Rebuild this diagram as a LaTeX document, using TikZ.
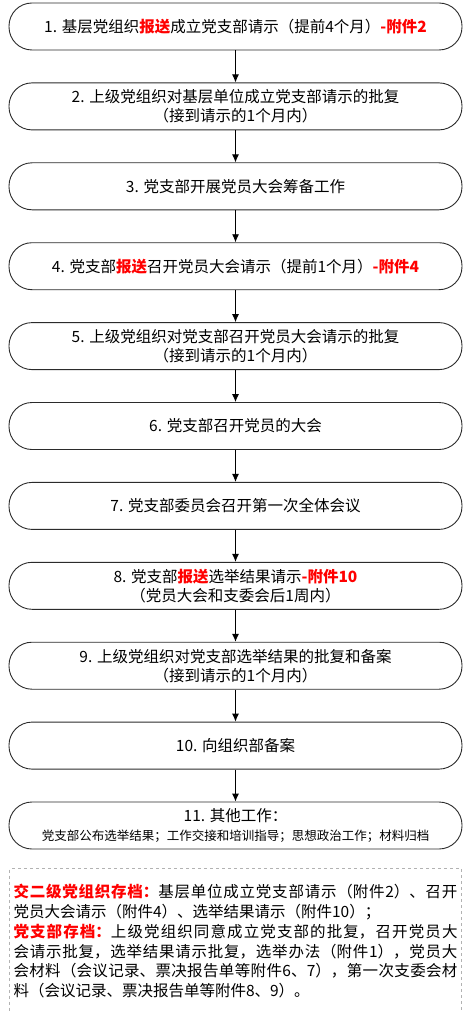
\documentclass[tikz,border=0pt]{standalone}
\usepackage{fontspec}
\setmainfont{Noto Sans CJK SC}
\XeTeXlinebreaklocale "zh"
\XeTeXlinebreakskip=0pt plus 2pt
\usepackage{xcolor}
\usepackage{tikz}
\usetikzlibrary{positioning,arrows.meta}
\definecolor{sendred}{HTML}{FF0000}
\definecolor{boxline}{HTML}{2B2B2B}
\newcommand{\hl}[1]{\textcolor{sendred}{\bfseries #1}}
\tikzstyle{stepbox}=[draw=boxline,line width=0.9pt,rounded corners=23pt,minimum width=453pt,minimum height=47pt,inner sep=2pt,align=center,font=\fontsize{15.5}{19}\selectfont]
\tikzstyle{flow}=[-{Latex[length=8pt,width=7pt]},line width=0.9pt]
\tikzstyle{notebox}=[draw=gray!60,dashed,minimum width=452pt,minimum height=145pt,text width=444pt,inner sep=4pt,align=justify,font=\fontsize{15.5}{19.8}\selectfont]

\begin{document}
\begin{tikzpicture}[node distance=32pt]
\useasboundingbox (0,0) rectangle (472pt,-1011pt);
\node[stepbox] (s1) at (235.5pt,-26.5pt) {1. 基层党组织\hl{报送}成立党支部请示（提前4个月）\hl{-附件2}};
\node[stepbox,below=of s1] (s2) {2. 上级党组织对基层单位成立党支部请示的批复\\（接到请示的1个月内）};
\node[stepbox,below=of s2] (s3) {3. 党支部开展党员大会筹备工作};
\node[stepbox,below=of s3] (s4) {4. 党支部\hl{报送}召开党员大会请示（提前1个月）\hl{-附件4}};
\node[stepbox,below=of s4] (s5) {5. 上级党组织对党支部召开党员大会请示的批复\\（接到请示的1个月内）};
\node[stepbox,below=of s5] (s6) {6. 党支部召开党员的大会};
\node[stepbox,below=of s6] (s7) {7. 党支部委员会召开第一次全体会议};
\node[stepbox,below=of s7] (s8) {8. 党支部\hl{报送}选举结果请示\hl{-附件10}\\（党员大会和支委会后1周内）};
\node[stepbox,below=of s8] (s9) {9. 上级党组织对党支部选举结果的批复和备案\\（接到请示的1个月内）};
\node[stepbox,below=of s9] (s10) {10. 向组织部备案};
\node[stepbox,below=of s10] (s11) {11. 其他工作：\\{\fontsize{12.5}{16}\selectfont 党支部公布选举结果；工作交接和培训指导；思想政治工作；材料归档}};
\foreach \a/\b in {s1/s2,s2/s3,s3/s4,s4/s5,s5/s6,s6/s7,s7/s8,s8/s9,s9/s10,s10/s11}
  \draw[flow] (\a) -- (\b);
% archive note
\node[notebox,below=19pt of s11] (note) {\hl{交二级党组织存档：}基层单位成立党支部请示（附件2）、召开\linebreak
党员大会请示（附件4）、选举结果请示（附件10）；\\
\hl{党支部存档：}上级党组织同意成立党支部的批复，召开党员大\linebreak
会请示批复，选举结果请示批复，选举办法（附件1），党员大\linebreak
会材料（会议记录、票决报告单等附件6、7），第一次支委会材\linebreak
料（会议记录、票决报告单等附件8、9）。};
\end{tikzpicture}
\end{document}
